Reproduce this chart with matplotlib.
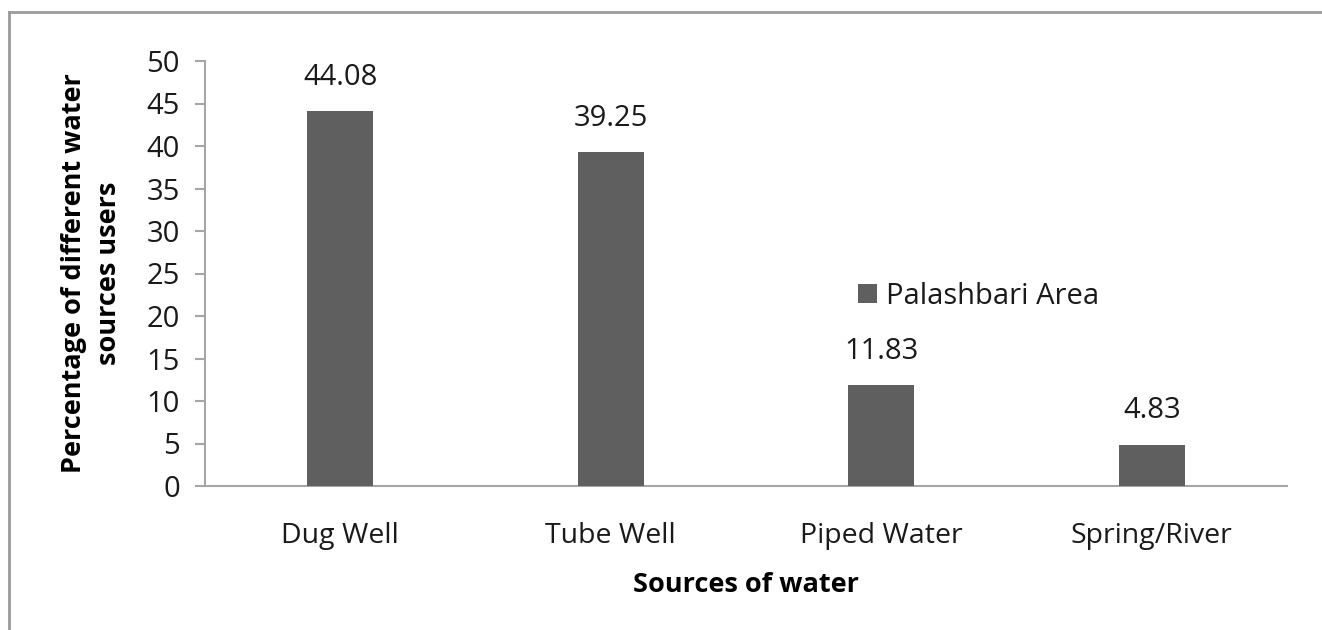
import matplotlib.pyplot as plt
from matplotlib.lines import Line2D

# dados do grafico
sources = ["Dug Well", "Tube Well", "Piped Water", "Spring/River"]
percent = [44.08, 39.25, 11.83, 4.83]
series_name = "Palashbari Area"
yticks = [0, 5, 10, 15, 20, 25, 30, 35, 40, 45, 50]

bar_color = "#5f5f5f"
axis_color = "#a6a6a6"
text_color = "#1a1a1a"

plt.rcParams['font.family'] = ['Open Sans', 'DejaVu Sans']

fig = plt.figure(figsize=(13.22, 6.30), dpi=100)
ax = fig.add_axes([205/1322, 1 - 486/630, (1287 - 205)/1322, (486 - 61)/630])

x = range(len(sources))
bars = ax.bar(x, percent, width=0.245, color=bar_color, label=series_name, zorder=3)

for xi, v in zip(x, percent):
    ax.annotate("{:.2f}".format(v), (xi, v), xytext=(0, 34), textcoords="offset pixels",
                ha="center", va="center", fontsize=21, color=text_color)

ax.set_xlim(-0.5, len(sources) - 0.5)
ax.set_ylim(0, 50)
ax.set_yticks(yticks)
ax.set_xticks(list(x))
ax.set_xticklabels(sources)

for s in ["top", "right"]:
    ax.spines[s].set_visible(False)
for s in ["left", "bottom"]:
    ax.spines[s].set_color(axis_color)
    ax.spines[s].set_linewidth(1.5)

ax.tick_params(axis="y", direction="out", length=7, width=1.5, color=axis_color,
               labelsize=21, pad=11, labelcolor=text_color)
ax.tick_params(axis="x", length=0, labelsize=20.5, pad=26, labelcolor=text_color)

ax.set_xlabel("Sources of water", fontsize=19.5, fontweight="bold", labelpad=16,
              color="black")
ax.set_ylabel("Percentage of different water\nsources users", fontsize=19.5,
              fontweight="bold", linespacing=1.45, va="center", color="black")
ax.yaxis.set_label_coords((92 - 205)/1082, 0.5)

ax.legend(loc="center left", bbox_to_anchor=(858/1322, 1 - 296/630),
          bbox_transform=fig.transFigure, frameon=False, fontsize=21,
          handlelength=0.65, handleheight=0.65, handletextpad=0.3, borderaxespad=0,
          borderpad=0, labelcolor=text_color)

# moldura cinza de cima e da esquerda
fig.add_artist(Line2D([9/1322, 1.0], [1 - 12/630, 1 - 12/630], transform=fig.transFigure,
                      color="#9a9a9a", lw=2))
fig.add_artist(Line2D([9/1322, 9/1322], [0.0, 1 - 12/630], transform=fig.transFigure,
                      color="#9a9a9a", lw=2))

fig.savefig("out.png", dpi=100, facecolor="white")
